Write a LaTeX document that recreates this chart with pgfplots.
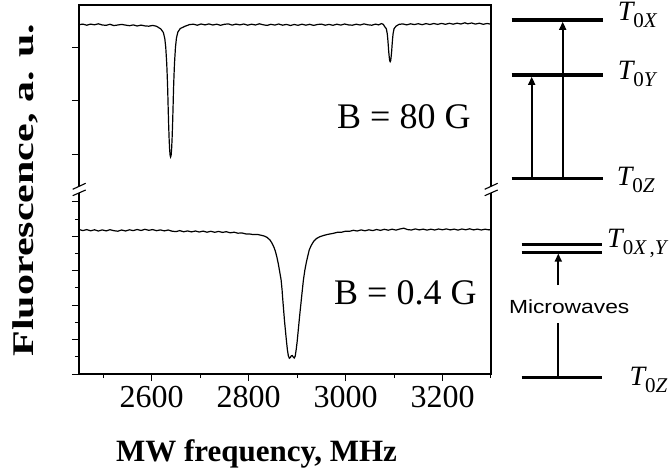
\documentclass[border=0pt]{standalone}
\usepackage{fontspec}
\setmainfont{Liberation Serif}
\newfontfamily\arialfont{Liberation Sans}
\usepackage{graphicx}
\usepackage{pgfplots}
\usepackage{pgfplotstable}
\pgfplotsset{compat=1.18}
\usetikzlibrary{arrows.meta}

% B = 80 G spectrum (fluorescence, arbitrary units)
\pgfplotstableread{
f v
2450 349.3
2458 349.9
2466 348.8
2474 349.9
2482 349.2
2490 350.2
2498 349.0
2506 348.7
2514 349.7
2522 348.4
2530 349.0
2538 349.6
2546 348.9
2554 348.3
2562 349.1
2570 348.0
2578 348.9
2586 348.1
2594 347.8
2602 348.6
2610 347.7
2619 345.0
2624 341.5
2627 335.5
2629 326.5
2631 310.5
2632 298.5
2633 284.5
2634 265.5
2635 248.5
2636 234.5
2637 224.5
2638 218.5
2639 217.0
2640 218.5
2641 224.5
2642 234.5
2643 248.5
2644 265.5
2645 284.5
2646 298.5
2647 310.5
2649 326.5
2651 335.8
2654 342.0
2659 345.5
2669 347.8
2678 349.4
2686 349.8
2694 348.8
2702 350.0
2710 349.1
2718 350.1
2726 349.0
2734 349.8
2742 348.7
2750 349.7
2758 350.1
2766 348.9
2774 349.9
2782 349.1
2790 350.0
2798 348.8
2806 349.8
2814 349.0
2822 350.2
2830 349.2
2838 348.6
2846 349.7
2854 348.9
2862 350.0
2870 348.8
2878 349.6
2886 348.5
2894 349.5
2902 348.7
2910 349.8
2918 348.8
2926 349.7
2934 348.6
2942 349.5
2950 349.9
2958 348.8
2966 349.6
2974 348.7
2982 349.8
2990 348.9
2998 350.0
3006 349.1
3014 348.8
3022 349.8
3030 349.0
3038 350.1
3046 349.2
3054 348.8
3062 349.9
3068 349.1
3074 350.4
3078 349.6
3080 347.8
3084 345.3
3086 340.3
3087 335.3
3088 329.3
3089 322.3
3090 317.3
3091 313.3
3092 312.3
3093 313.3
3094 317.3
3095 322.3
3096 329.3
3097 335.3
3098 340.3
3100 345.3
3104 347.8
3110 349.6
3118 350.1
3126 349.1
3134 350.2
3142 349.4
3150 350.3
3158 349.3
3166 350.4
3174 349.5
3182 350.5
3190 349.6
3198 350.6
3206 349.7
3214 350.7
3222 349.8
3230 350.8
3238 350.0
3246 351.2
3252 350.2
3260 351.0
3268 349.9
3276 350.8
3284 349.7
3292 350.5
3300 349.8
}\topdata

% B = 0.4 G spectrum
\pgfplotstableread{
f v
2450 144.5
2458 143.4
2466 144.4
2474 143.2
2482 144.2
2490 143.0
2498 144.1
2506 143.1
2514 144.3
2522 143.3
2530 142.8
2538 144.0
2546 143.0
2554 144.2
2562 143.4
2570 144.5
2578 143.5
2586 144.7
2594 143.7
2602 144.4
2610 143.3
2618 144.1
2626 143.1
2634 144.0
2642 142.8
2650 142.4
2658 143.4
2666 142.2
2674 143.1
2682 142.1
2690 143.0
2698 142.0
2706 142.9
2714 141.8
2722 142.7
2730 141.7
2738 142.6
2746 141.6
2754 142.3
2762 141.2
2770 141.8
2778 140.8
2786 141.1
2794 140.1
2802 140.0
2810 139.4
2818 139.6
2826 138.7
2832 138.0
2838 136.6
2844 134.0
2848 131.0
2852 127.0
2855 123.0
2858 117.5
2861 110.7
2864 102.5
2867 94.0
2869 84.0
2870 77.0
2872 65.0
2874 53.0
2876 43.0
2878 33.0
2880 24.0
2882 18.0
2884 15.8
2886 16.5
2888 18.2
2890 18.4
2892 17.0
2894 16.0
2896 17.8
2898 24.0
2900 32.0
2902 42.0
2904 52.0
2906 62.0
2908 71.0
2910 80.5
2913 94.0
2916 104.0
2919 111.5
2922 118.0
2925 124.0
2929 128.5
2934 132.5
2940 135.5
2947 137.3
2955 138.6
2963 139.6
2975 140.7
2984 141.8
2992 141.8
3000 142.8
3009 142.8
3016 143.7
3024 143.0
3032 144.1
3040 143.2
3048 144.2
3056 143.4
3064 144.5
3072 143.6
3080 144.7
3088 143.8
3096 144.8
3104 143.9
3112 145.0
3120 145.8
3128 144.4
3136 144.0
3144 145.1
3152 144.1
3160 144.9
3168 143.9
3176 144.8
3184 144.0
3192 145.0
3200 144.2
3208 145.1
3216 144.1
3224 144.9
3232 143.9
3240 145.0
3248 144.2
3256 145.2
3264 144.1
3272 144.9
3280 144.0
3288 144.8
3296 144.1
3300 144.5
}\botdata

\newcommand{\Tlab}[1]{{\fontsize{28}{28}\selectfont\itshape T}\raisebox{-7pt}{\fontsize{21}{21}\selectfont 0\itshape #1}}

\begin{document}
\begin{tikzpicture}
\useasboundingbox (0pt,0pt) rectangle (670pt,475pt);
\begin{axis}[
  at={(79pt,101pt)}, anchor=south west,
  scale only axis, width=412pt, height=369pt,
  xmin=2450, xmax=3300, ymin=0, ymax=369,
  xtick={2600,2800,3000,3200},
  xticklabels={2600,2800,3000,3200},
  minor xtick={2500,2700,2900,3100,3300},
  ytick={0,34.45,68.9,103.35,137.8,172.25,220,273.3,326.3},
  yticklabels={,,,,,,,,},
  minor ytick={17.2,51.7,86.1,120.6,155.0},
  tick pos=left,
  tick align=outside,
  major tick length=7pt,
  minor tick length=4pt,
  every tick/.style={black, line width=1pt},
  axis line style={black, line width=1.3pt},
  /pgf/number format/assume math mode=true,
  xticklabel style={font=\fontsize{32}{32}\selectfont, yshift=-2pt},
  xlabel={\bfseries MW frequency, MHz},
  xlabel style={font=\fontsize{31}{31}\selectfont, at={(axis description cs:0.4308,-0.2377)}, anchor=base},
  ylabel={\scalebox{1.4}[1]{\bfseries Fluorescence, a. u.}},
  ylabel style={font=\fontsize{30}{30}\selectfont, at={(axis description cs:-0.1311,0.4986)}, anchor=center},
]
\addplot[black, line width=1.2pt] table[x=f, y=v] {\topdata};
\addplot[black, line width=1.2pt] table[x=f, y=v] {\botdata};
\end{axis}

% axis break marks
\fill[white] (75pt,282.3pt) rectangle (83pt,288.6pt);
\fill[white] (487pt,282.3pt) rectangle (495pt,288.6pt);
\draw[line width=1.1pt] (72.7pt,285.7pt) -- (85.7pt,291.7pt);
\draw[line width=1.1pt] (72.7pt,279.3pt) -- (85.7pt,285pt);
\draw[line width=1.1pt] (484.7pt,285.7pt) -- (497.7pt,291.7pt);
\draw[line width=1.1pt] (484.7pt,279.3pt) -- (497.7pt,285pt);

% field labels
\node[anchor=base west, inner sep=0pt, font=\fontsize{36}{36}\selectfont] at (337pt,346.7pt) {B = 80 G};
\node[anchor=base west, inner sep=0pt, font=\fontsize{36}{36}\selectfont] at (334pt,170.7pt) {B = 0.4 G};

% energy level diagram, B = 80 G
\draw[line width=3.5pt] (511.7pt,455pt) -- (603.3pt,455pt);
\draw[line width=3.5pt] (511.7pt,400pt) -- (603.3pt,400pt);
\draw[line width=3.5pt] (511.7pt,296.7pt) -- (603.3pt,296.7pt);
\draw[line width=1.7pt, -{Triangle[length=8pt,width=7pt]}] (531.7pt,298.4pt) -- (531.7pt,398.2pt);
\draw[line width=1.7pt, -{Triangle[length=8pt,width=7pt]}] (562.7pt,298.4pt) -- (562.7pt,453.2pt);
\node[anchor=base west, inner sep=0pt] at (617.7pt,454pt) {\Tlab{X}};
\node[anchor=base west, inner sep=0pt] at (617.7pt,395pt) {\Tlab{Y}};
\node[anchor=base west, inner sep=0pt] at (616.7pt,290pt) {\Tlab{Z}};

% energy level diagram, B = 0.4 G
\draw[line width=2.6pt] (521.7pt,230.5pt) -- (601.7pt,230.5pt);
\draw[line width=2.6pt] (521.7pt,222.7pt) -- (601.7pt,222.7pt);
\draw[line width=3.5pt] (521.7pt,97.7pt) -- (601.7pt,97.7pt);
\draw[line width=1.7pt, -{Triangle[length=8pt,width=7pt]}] (558.3pt,190pt) -- (558.3pt,221.4pt);
\draw[line width=1.7pt] (558.3pt,151.7pt) -- (558.3pt,99.4pt);
\node[anchor=base, inner sep=0pt, font=\arialfont\fontsize{19}{19}\selectfont] at (569.2pt,161.7pt) {\scalebox{1.2}[1]{Microwaves}};
\node[anchor=base west, inner sep=0pt] at (607pt,227.5pt) {\Tlab{X\,\upshape,\itshape Y}};
\node[anchor=base west, inner sep=0pt] at (629.3pt,90pt) {\Tlab{Z}};
\end{tikzpicture}
\end{document}
